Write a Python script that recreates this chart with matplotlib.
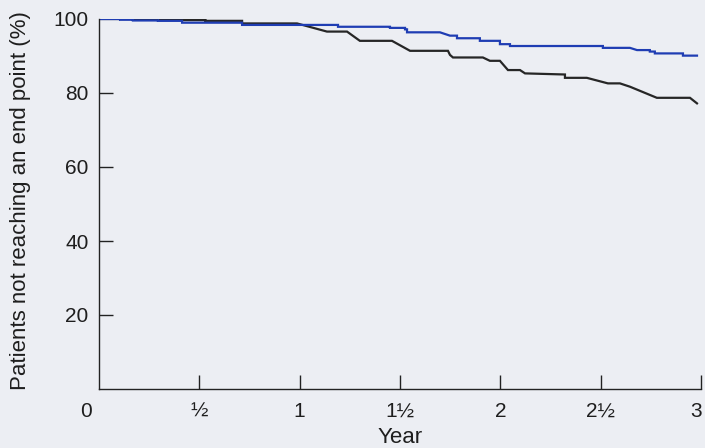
import matplotlib
matplotlib.use("Agg")
import matplotlib.pyplot as plt
from matplotlib.transforms import ScaledTranslation

# Data (years, % not reaching an end point)
blue_t = [0.0, 0.105, 0.105, 0.169, 0.169, 0.294, 0.294, 0.414, 0.414, 0.713, 0.713,
          1.191, 1.191, 1.450, 1.450, 1.525, 1.525, 1.535, 1.535, 1.699, 1.749, 1.784,
          1.784, 1.898, 1.898, 1.998, 1.998, 2.048, 2.048, 2.511, 2.511, 2.646, 2.681,
          2.745, 2.745, 2.770, 2.770, 2.910, 2.910, 2.980]
blue_s = [100.0, 100.0, 99.8, 99.8, 99.6, 99.6, 99.5, 99.5, 99.0, 99.0, 98.4,
          98.4, 97.9, 97.9, 97.6, 97.6, 97.2, 97.2, 96.4, 96.4, 95.5, 95.5,
          94.8, 94.8, 94.1, 94.1, 93.2, 93.2, 92.7, 92.7, 92.2, 92.2, 91.6,
          91.6, 91.2, 91.2, 90.7, 90.7, 90.1, 90.1]

black_t = [0.0, 0.414, 0.414, 0.530, 0.530, 0.713, 0.713, 0.987, 1.136, 1.236, 1.300,
           1.460, 1.550, 1.739, 1.749, 1.764, 1.913, 1.948, 1.998, 2.038, 2.098, 2.123,
           2.322, 2.322, 2.431, 2.536, 2.596, 2.646, 2.780, 2.945, 2.980]
black_s = [100.0, 100.0, 99.7, 99.7, 99.5, 99.5, 98.8, 98.8, 96.6, 96.6, 94.1,
           94.1, 91.4, 91.4, 90.3, 89.6, 89.6, 88.7, 88.7, 86.2, 86.2, 85.3,
           85.0, 84.1, 84.1, 82.6, 82.6, 81.7, 78.7, 78.7, 77.2]

x_ticks = [0.5, 1.0, 1.5, 2.0, 2.5, 3.0]
x_labels = ["½", "1", "1½", "2", "2½", "3"]
y_ticks = [20, 40, 60, 80, 100]
y_labels = ["20", "40", "60", "80", "100"]

bg = "#eceef3"
txt = "#1e1e1e"
plt.rcParams['font.family'] = ['Liberation Sans', 'DejaVu Sans']

fig = plt.figure(figsize=(7.05, 4.48), dpi=100, facecolor=bg)
ax = fig.add_axes([99/705, 59/448, 602/705, 370/448])
ax.set_facecolor(bg)

ax.plot(black_t, black_s, color="#262626", lw=1.6, solid_joinstyle="miter")
ax.plot(blue_t, blue_s, color="#1f3db3", lw=1.6, solid_joinstyle="miter")

ax.set_xlim(0, 3)
ax.set_ylim(0, 100)
for s in ["top", "right"]:
    ax.spines[s].set_visible(False)
for s in ["left", "bottom"]:
    ax.spines[s].set_color("#222222")
    ax.spines[s].set_linewidth(1.0)

ax.set_xticks(x_ticks)
ax.set_xticklabels(x_labels)
ax.set_yticks(y_ticks)
ax.set_yticklabels(y_labels)
ax.tick_params(axis="both", direction="in", length=10, width=1.0, color="#222222",
               labelsize=15, labelcolor=txt)
ax.tick_params(axis="x", pad=9)
ax.tick_params(axis="y", pad=7.5)
ax.yaxis.get_major_ticks()[-1].tick1line.set_visible(False)

# keep the last x label ("3") inside the figure edge
last = ax.get_xticklabels()[-1]
last.set_transform(last.get_transform() + ScaledTranslation(-5/100, 0, fig.dpi_scale_trans))

ax.annotate("0", xy=(0, 0), xycoords="data", xytext=(-13, -22), textcoords="offset pixels",
            ha="center", va="center", fontsize=15, color=txt)

ax.set_xlabel("Year", fontsize=16, color=txt)
ax.set_ylabel("Patients not reaching an end point (%)", fontsize=16, color=txt)
ax.xaxis.set_label_coords(0.5, (389 - 427) / 370)
ax.yaxis.set_label_coords((31 - 99) / 602, 0.51)

fig.savefig("out.png", dpi=100, facecolor=bg)
